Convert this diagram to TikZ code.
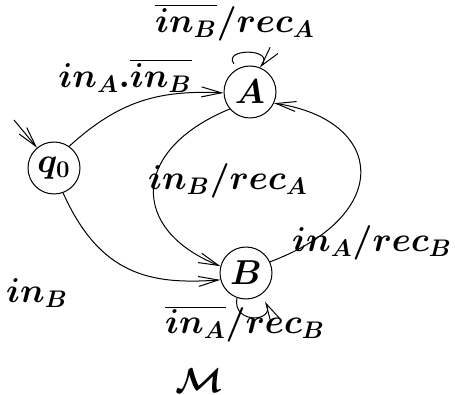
\documentclass[tikz,border=0pt]{standalone}
\usetikzlibrary{arrows.meta}
\begin{document}
\begin{tikzpicture}[x=0.5pt,y=-0.5pt,
  state/.style={draw,circle,line width=0.5pt,minimum size=26pt,inner sep=0pt,font=\fontsize{16.5}{19}\selectfont\boldmath},
  lbl/.style={inner sep=0pt,font=\fontsize{16.5}{19}\selectfont\boldmath},
  edge/.style={line width=0.5pt,-{Straight Barb[length=10pt,width=5pt]}}]
\useasboundingbox (0,0) rectangle (455,395);
\node[state] (q0) at (54,168) {$q_0$};
\node[state] (A) at (250,92) {$A$};
\node[state] (B) at (246,273) {$B$};
\coordinate (init) at (14,120);
\draw[edge] (init) -- (q0.130);
\draw[edge] (q0.55) .. controls (120,100) and (160,90) .. (A.182);
\draw[edge] (A.220) .. controls (130,150) and (130,230) .. (B.165);
\draw[edge] (q0.290) .. controls (100,275) and (150,285) .. (B.195);
\draw[edge] (B.25) .. controls (395,215) and (385,120) .. (A.335);
\draw[edge,shorten <=3pt] (A.118) .. controls (222,48) and (276,48) .. (A.68);
\draw[edge,shorten >=4pt] (B.250) .. controls (232,325) and (276,322) .. (B.305);
\node[lbl] (lA) at (235,23) {$\overline{in_B}/rec_A$};
\node[lbl] (lqA) at (125,76) {$in_A.\overline{in_B}$};
\node[lbl] (lAB) at (228,181) {$in_B/rec_A$};
\node[lbl] (lBA) at (372,243) {$in_A/rec_B$};
\node[lbl] (lqB) at (37,293) {$in_B$};
\node[lbl] (lB) at (245,324) {$\overline{in_A}/rec_B$};
\node[lbl] (M) at (199,381) {$\mathcal{M}$};
\end{tikzpicture}
\end{document}
